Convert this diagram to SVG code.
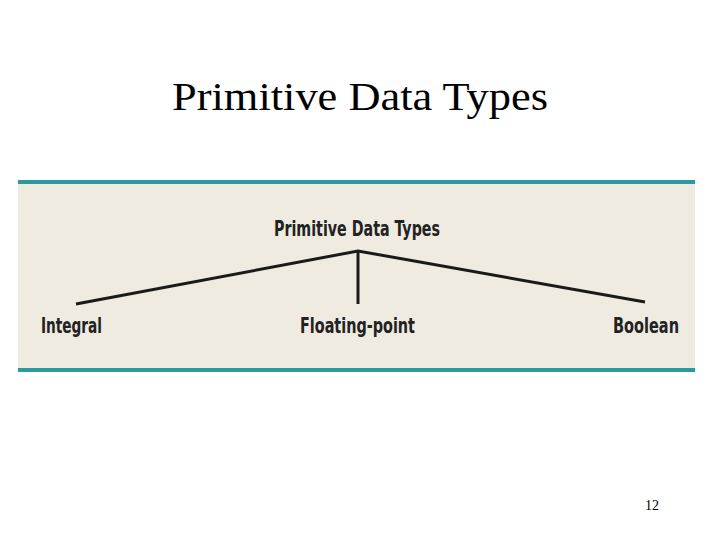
<svg xmlns="http://www.w3.org/2000/svg" width="720" height="540" viewBox="0 0 720 540">
<style>
.t{font-family:"DejaVu Sans Condensed","DejaVu Sans",sans-serif;font-stretch:condensed;font-weight:bold;font-size:21px;fill:#222}
.c{stroke:#1a1a1a;stroke-width:3;fill:none}
</style>
<rect width="720" height="540" fill="#fff"/>
<text x="360" y="110" text-anchor="middle" font-family="Liberation Serif,serif" font-size="40" textLength="376" lengthAdjust="spacingAndGlyphs">Primitive Data Types</text>
<rect x="18" y="183" width="677" height="186" fill="#efebe0"/>
<rect x="18" y="180" width="677" height="4" fill="#2a9a9e"/>
<rect x="18" y="368" width="677" height="4" fill="#2a9a9e"/>
<g id="connectors">
<path class="c" d="M76 304 L358 251 L645 302"/>
<path class="c" d="M358 251 V304" stroke-width="2"/>
</g>
<g id="root"><text class="t" x="274" y="236" textLength="166" lengthAdjust="spacingAndGlyphs">Primitive Data Types</text></g>
<g id="integral"><text class="t" x="41" y="333" textLength="61" lengthAdjust="spacingAndGlyphs">Integral</text></g>
<g id="floating"><text class="t" x="300" y="333" textLength="115" lengthAdjust="spacingAndGlyphs">Floating-point</text></g>
<g id="boolean"><text class="t" x="613" y="333" textLength="66" lengthAdjust="spacingAndGlyphs">Boolean</text></g>
<text x="652" y="510" text-anchor="middle" font-family="Liberation Serif,serif" font-size="14">12</text>
</svg>
